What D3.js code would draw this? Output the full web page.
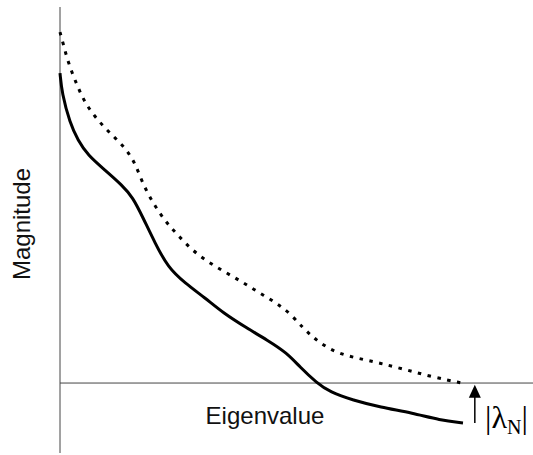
<!DOCTYPE html>
<html>
<head>
<meta charset="utf-8">
<script src="https://cdn.jsdelivr.net/npm/d3@7"></script>
<style>
  body { margin: 0; background: #fff; }
  svg { display: block; }
</style>
</head>
<body>
<svg id="chart" width="533" height="455"></svg>
<script>
// eigenvalue index (x) and magnitude (y)
var solid_x = [0, 0.4, 2.1, 3.8, 5.9, 9.5, 13.1, 15.4, 17.5, 20.1, 22.8, 26.4, 30.7, 34.5, 39.5, 43.8, 48, 50.7, 54.3, 57.1, 61.9, 67.7, 74.6, 80.3, 85.2];
var solid_y = [88.6, 82.9, 74.3, 69.4, 65.1, 60.9, 56.6, 53.1, 47.4, 40, 33.1, 28.6, 24.3, 20, 15.7, 12.3, 8.6, 4.6, 0, -2.6, -4.9, -6.9, -8.6, -10.6, -11.4];
var dotted_x = [0, 0.6, 1.7, 3.6, 5.3, 7.8, 10.6, 13.7, 15.9, 17.5, 19.7, 22.2, 24.7, 27.9, 31.3, 34.9, 38.5, 41.9, 45.5, 48.6, 51.4, 53.5, 55.6, 58.6, 62.8, 67.7, 73.4, 78.9, 85];
var dotted_y = [100.3, 97.4, 91.7, 85.1, 80, 75.4, 71.4, 67.4, 62.9, 56.9, 51.4, 46.3, 42.6, 38, 34.6, 31.7, 28.9, 26, 23.1, 20, 15.7, 13.1, 10.9, 8.6, 7.1, 5.7, 3.7, 1.7, 0];
var arrow_x = 87.7;
var arrow_y = [-11.4, -0.5];
var x_label = "Eigenvalue";
var y_label = "Magnitude";

var svg = d3.select("#chart");
var x = d3.scaleLinear().domain([0, 100]).range([60, 533]);
var y = d3.scaleLinear().domain([-20, 107.5]).range([453, 7]);

// axes: plain lines, no ticks
svg.append("line")
    .attr("x1", x(0)).attr("x2", x(0))
    .attr("y1", y.range()[0]).attr("y2", y.range()[1])
    .attr("stroke", "#444").attr("stroke-width", 1);
svg.append("line")
    .attr("x1", x(0)).attr("x2", x.range()[1])
    .attr("y1", y(0)).attr("y2", y(0))
    .attr("stroke", "#444").attr("stroke-width", 1);

var line = d3.line()
    .x(function(d){ return x(d[0]); })
    .y(function(d){ return y(d[1]); })
    .curve(d3.curveBasis);

svg.append("path")
    .datum(d3.zip(dotted_x, dotted_y))
    .attr("d", line)
    .attr("fill", "none")
    .attr("stroke", "#000")
    .attr("stroke-width", 3)
    .attr("stroke-dasharray", "3.5,6.5");

svg.append("path")
    .datum(d3.zip(solid_x, solid_y))
    .attr("d", line)
    .attr("fill", "none")
    .attr("stroke", "#000")
    .attr("stroke-width", 3);

// arrow pointing at the axis
var ax = x(arrow_x), ay0 = y(arrow_y[0]), ay1 = y(arrow_y[1]);
svg.append("line")
    .attr("x1", ax).attr("x2", ax)
    .attr("y1", ay0).attr("y2", ay1 + 10)
    .attr("stroke", "#000").attr("stroke-width", 1.5);
svg.append("path")
    .attr("d", "M" + ax + "," + ay1 + " L" + (ax - 6) + "," + (ay1 + 13) + " L" + (ax + 6) + "," + (ay1 + 13) + " Z")
    .attr("fill", "#000");

// |λN| label
var lab = svg.append("text")
    .attr("x", 485)
    .attr("y", 428)
    .attr("font-family", "'Liberation Serif', 'Times New Roman', serif")
    .attr("font-size", 32)
    .attr("fill", "#000");
lab.append("tspan").text("|λ");
lab.append("tspan").text("N").attr("font-size", 20).attr("dy", 6);
lab.append("tspan").text("|").attr("dy", -6);

svg.append("text")
    .text(x_label)
    .attr("x", 265)
    .attr("y", 424)
    .attr("text-anchor", "middle")
    .attr("font-family", "'Liberation Sans', Arial, sans-serif")
    .attr("font-size", 24)
    .attr("fill", "#111");

svg.append("text")
    .text(y_label)
    .attr("transform", "translate(30,224) rotate(-90)")
    .attr("text-anchor", "middle")
    .attr("font-family", "'Liberation Sans', Arial, sans-serif")
    .attr("font-size", 24)
    .attr("fill", "#111");
</script>
</body>
</html>
